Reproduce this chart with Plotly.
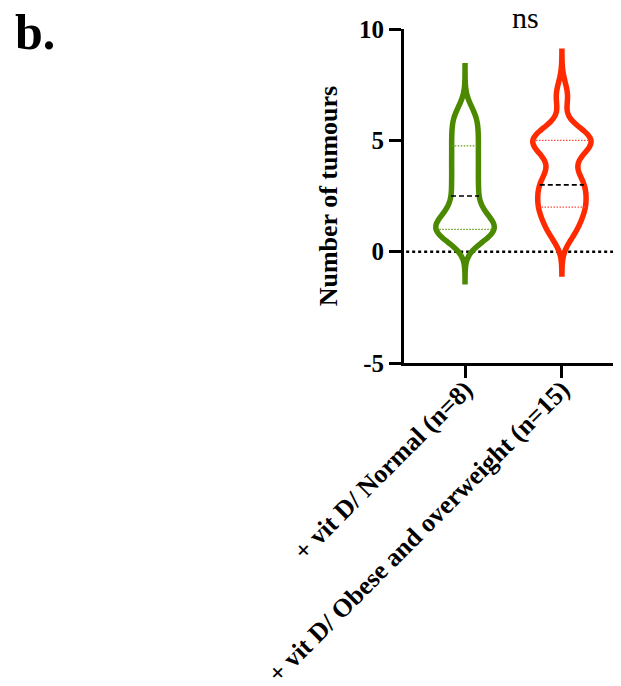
import numpy as np
import plotly.graph_objects as go

# ---- data ----
categories = ["+ vit D/ Normal (n=8)", "+ vit D/ Obese and overweight (n=15)"]
normal_values = [1, 1, 1, 2, 3, 4, 5, 6]
obese_values = [1, 1, 2, 2, 2, 3, 3, 3, 4, 5, 5, 5, 5, 5, 7]
y_ticks = [-5, 0, 5, 10]
y_tick_labels = ["-5", "0", "5", "10"]
significance = "ns"
panel_label = "b."

# ---- style ----
colors = ["#4B8A00", "#FF2A00"]
quart_colors = ["#5E9E10", "#FF4A3A"]
bandwidths = [0.6, 0.6]
tails = [2.35, 2.0]
VIOLIN_W = 0.6
FONT = "Liberation Serif"

fig = go.Figure()
series = [normal_values, obese_values]

for i, (vals, col) in enumerate(zip(series, colors)):
    arr = np.array(vals, dtype=float)
    bw = bandwidths[i]
    span = [arr.min() - tails[i], arr.max() + tails[i]]
    fig.add_trace(go.Violin(
        y=vals, x0=i, name=categories[i], width=VIOLIN_W,
        bandwidth=bw, spanmode="manual", span=span,
        scalemode="width", points=False,
        box=dict(visible=False), meanline=dict(visible=False),
        line=dict(color=col, width=5.5), fillcolor="rgba(255,255,255,0)",
        showlegend=False, hoverinfo="skip",
    ))
    # quartile lines (Prism-style percentiles), clipped to the violin outline
    grid = np.linspace(span[0], span[1], 2000)
    dens = lambda y: np.exp(-0.5 * ((y - arr[:, None]) / bw) ** 2).sum(axis=0)
    dmax = dens(grid).max()
    for p in (25, 50, 75):
        q = float(np.percentile(arr, p, method="weibull"))
        hw = VIOLIN_W / 2 * float(dens(np.array([q]))[0]) / dmax
        if p == 50:
            ln = dict(color="black", width=1.6, dash="5px,3px")
        else:
            ln = dict(color=quart_colors[i], width=1.2, dash="1.5px,1.5px")
        fig.add_shape(type="line", xref="x", yref="y", x0=i - hw, x1=i + hw,
                      y0=q, y1=q, line=ln, layer="above")

# dotted zero line
fig.add_shape(type="line", xref="paper", yref="y", x0=0.01, x1=1, y0=0, y1=0,
              line=dict(color="black", width=2.5, dash="dot"), layer="below")

fig.add_annotation(text=significance, xref="paper", yref="paper",
                   x=0.558, y=1.033, xanchor="center", yanchor="middle",
                   showarrow=False, font=dict(family=FONT, size=30, color="black"))
fig.add_annotation(text=panel_label, xref="paper", yref="paper",
                   x=-1.80, y=0.99, xanchor="left", yanchor="middle",
                   showarrow=False,
                   font=dict(family=FONT, size=50, color="black", weight="bold"))

fig.update_layout(
    width=621, height=686,
    margin=dict(l=396, r=8, t=21, b=331, autoexpand=False),
    paper_bgcolor="white", plot_bgcolor="white",
    font=dict(family=FONT, color="black"),
    xaxis=dict(range=[-0.63, 1.61], tickmode="array", tickvals=[0, 1],
               ticktext=categories, tickangle=-45, ticks="outside",
               ticklen=12, tickwidth=3, tickcolor="black",
               ticklabelstandoff=-14, automargin=False,
               showline=True, linewidth=3, linecolor="black",
               showgrid=False, zeroline=False,
               tickfont=dict(family=FONT, size=26, color="black", weight="bold")),
    yaxis=dict(range=[-5, 10], tickmode="array", tickvals=y_ticks,
               ticktext=y_tick_labels, automargin=False,
               ticks="outside", ticklen=12, tickwidth=3, tickcolor="black",
               showline=True, linewidth=3, linecolor="black",
               showgrid=False, zeroline=False,
               tickfont=dict(family=FONT, size=25, color="black", weight="bold"),
               title=dict(text="Number of tumours", standoff=14,
                          font=dict(family=FONT, size=26, color="black", weight="bold"))),
)

fig.write_html("out.html")
